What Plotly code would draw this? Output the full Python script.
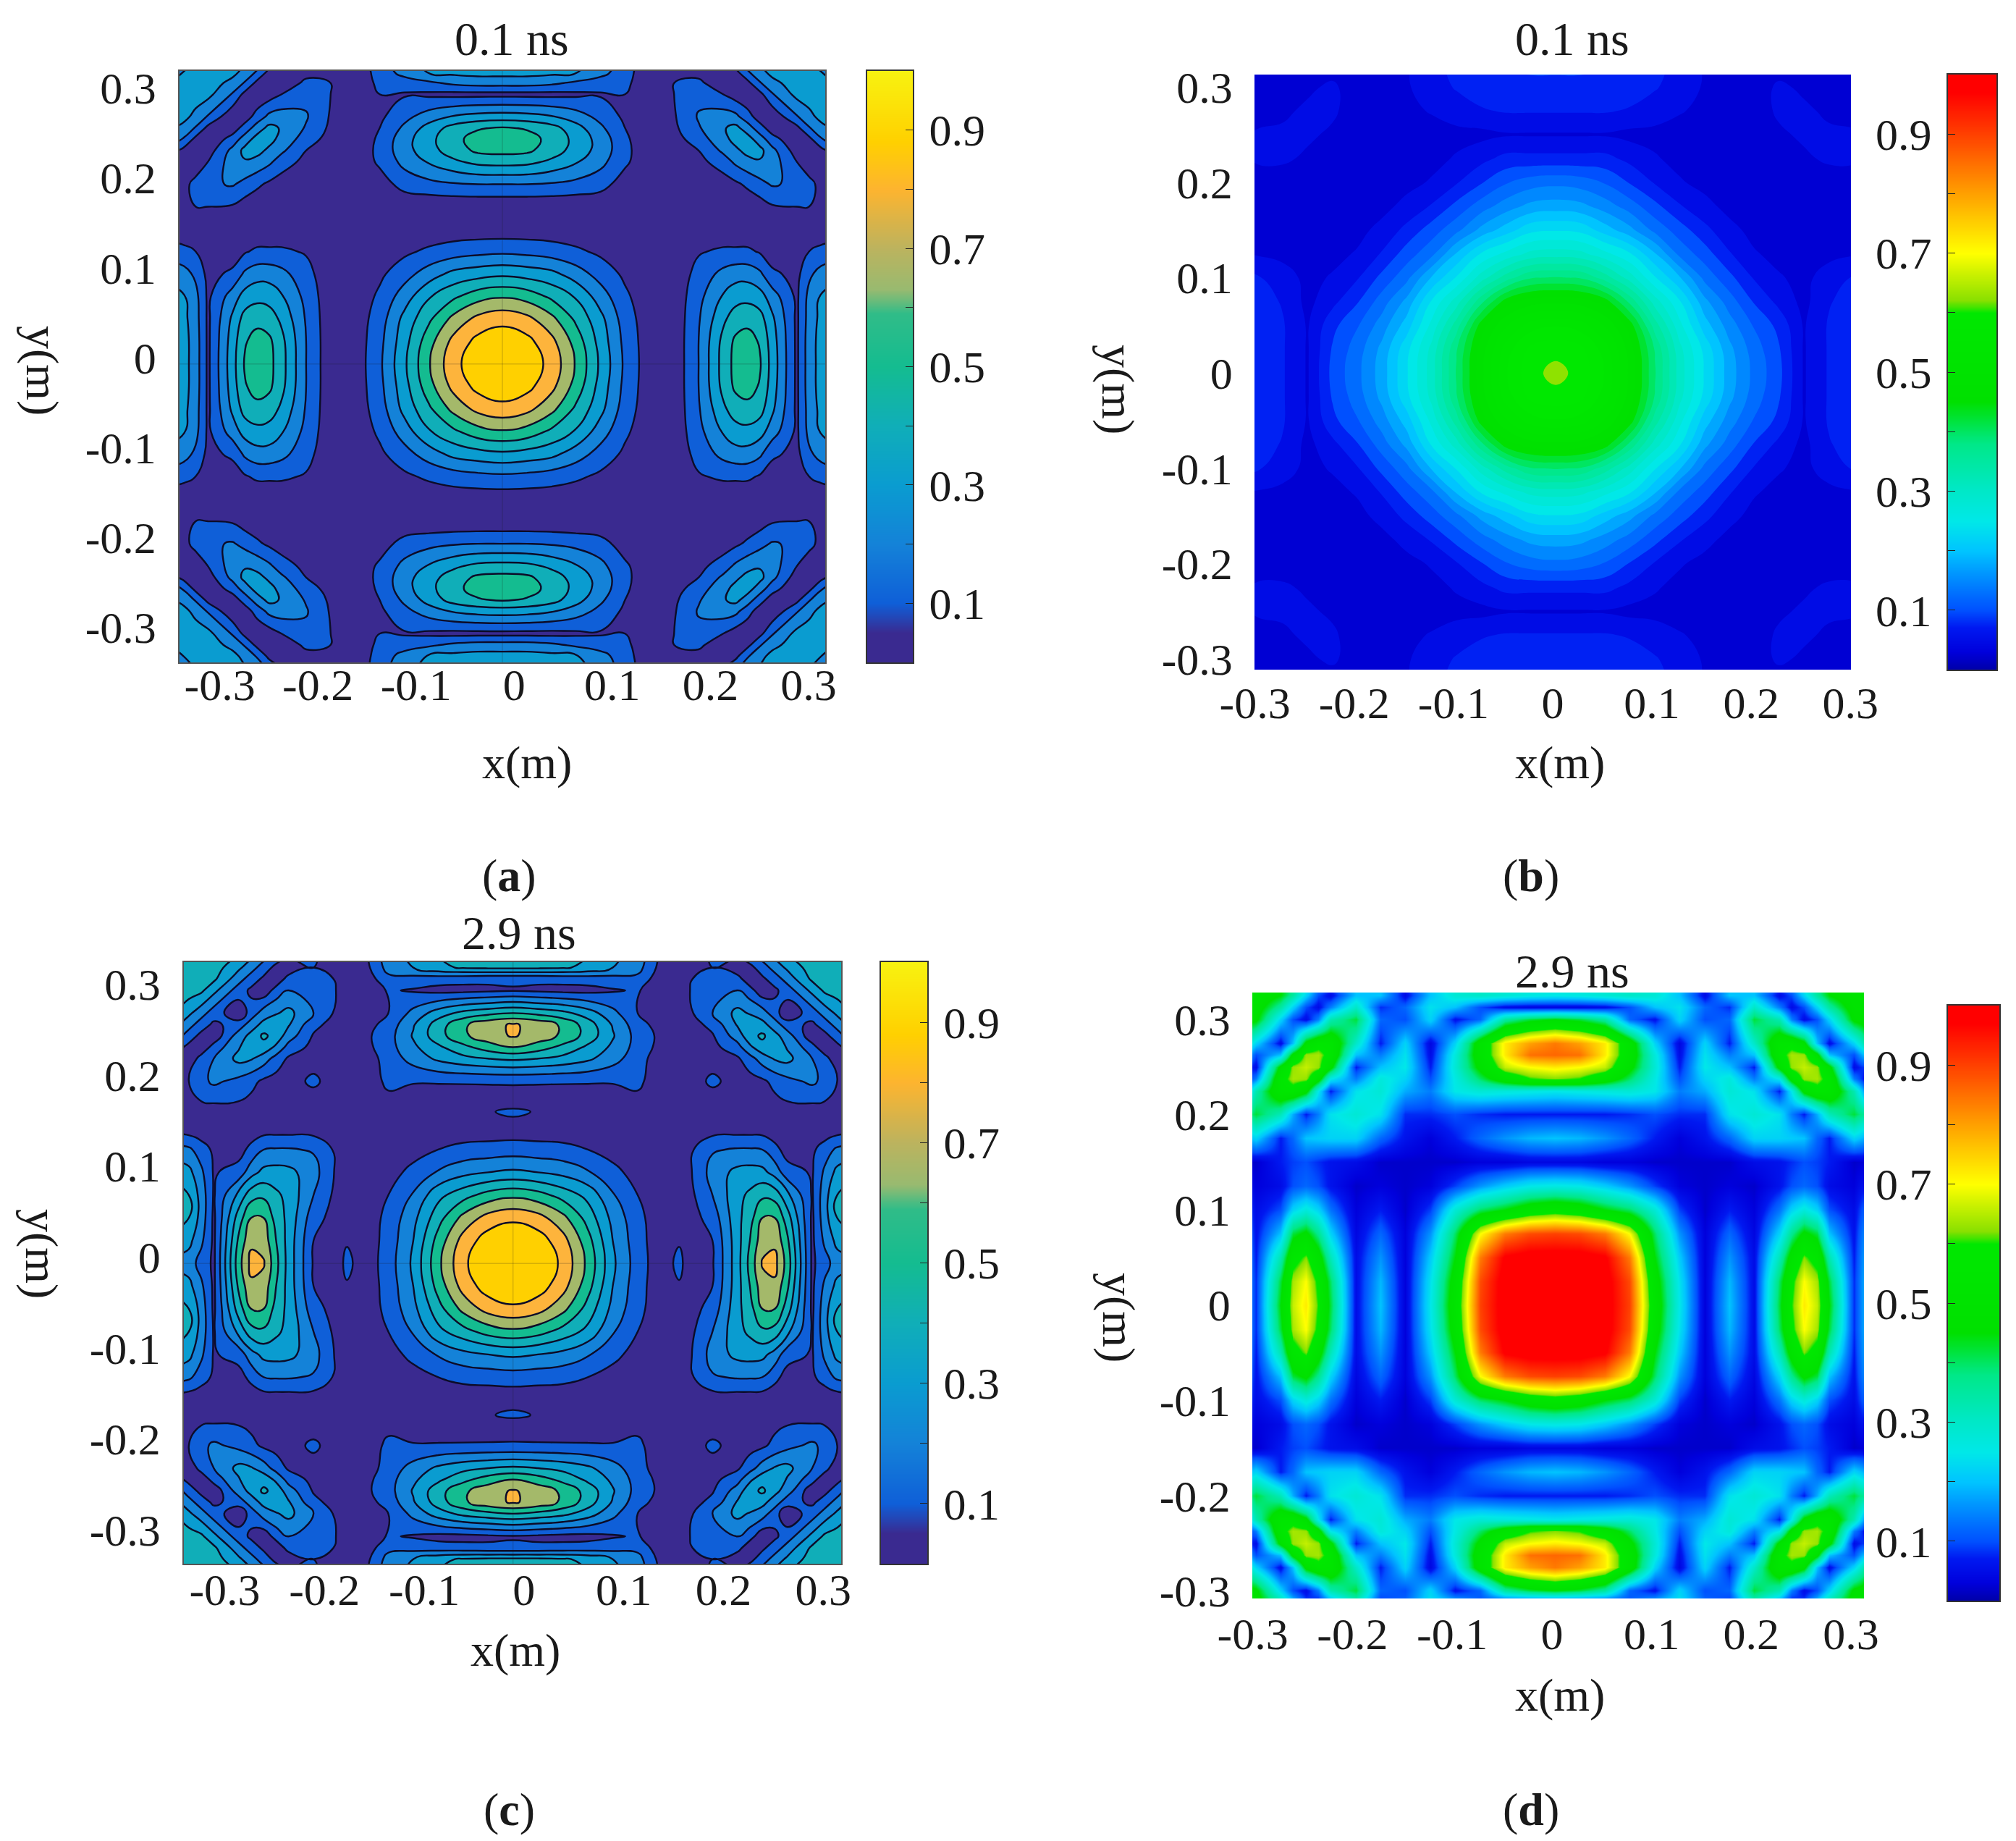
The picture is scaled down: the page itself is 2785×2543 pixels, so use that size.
import numpy as np
import plotly.graph_objects as go

W, H = 2785, 2543
Q = [0, .025, .05, .075, .1, .125, .15, .175, .2, .225, .25, .275, .3, .325, .35]
Q_FINE = [0, .025, .05, .075, .1, .125, .15, .175, .2, .225, .2375, .25, .2625, .275, .3, .3125, .325, .35]
Q_C = [0, .025, .05, .075, .1, .125, .15, .1666, .175, .2, .225, .2375, .25, .2625, .275, .3, .3125, .325, .35]

FIELD_A = [
[.90,.86,.77,.59,.38,.18,.04,.03,.20,.44,.53,.56,.51,.36,.08,.25,.34,.40],
[.86,.83,.73,.56,.36,.17,.04,.03,.20,.43,.52,.54,.49,.35,.08,.25,.34,.39],
[.77,.73,.63,.48,.33,.15,.04,.03,.19,.38,.45,.47,.44,.32,.08,.24,.33,.38],
[.59,.56,.48,.39,.25,.12,.03,.03,.17,.31,.36,.37,.34,.25,.08,.23,.31,.36],
[.38,.36,.33,.25,.16,.08,.02,.02,.14,.23,.26,.26,.22,.12,.07,.18,.24,.28],
[.18,.17,.15,.12,.08,.04,.01,.01,.09,.12,.12,.12,.09,.05,.06,.10,.13,.16],
[.04,.04,.04,.03,.02,.01,.01,.01,.01,.02,.02,.02,.02,.02,.02,.02,.03,.04],
[.02,.02,.02,.02,.02,.02,.01,.01,.01,.02,.02,.03,.05,.09,.10,.10,.05,.02],
[.20,.20,.19,.17,.14,.05,.01,.02,.02,.05,.08,.12,.17,.21,.18,.13,.07,.03],
[.44,.43,.38,.31,.23,.12,.02,.03,.07,.15,.22,.27,.29,.25,.10,.04,.02,.12],
[.53,.52,.45,.36,.26,.13,.02,.04,.10,.22,.28,.33,.33,.23,.05,.02,.07,.22],
[.56,.54,.47,.37,.26,.12,.02,.06,.15,.27,.33,.34,.25,.14,.02,.07,.19,.33],
[.51,.49,.44,.34,.22,.10,.02,.08,.19,.29,.33,.25,.14,.05,.07,.19,.27,.36],
[.35,.34,.31,.25,.17,.08,.01,.09,.21,.25,.23,.14,.05,.02,.19,.27,.33,.36],
[.07,.07,.07,.08,.09,.10,.02,.10,.17,.10,.05,.02,.07,.19,.33,.35,.36,.32],
[.24,.24,.22,.18,.15,.12,.04,.10,.12,.04,.02,.07,.19,.27,.35,.36,.33,.28],
[.34,.34,.33,.31,.24,.14,.03,.06,.07,.02,.07,.19,.27,.33,.36,.33,.30,.25],
[.40,.40,.38,.35,.27,.16,.04,.03,.12,.20,.27,.32,.35,.36,.32,.28,.25,.20],
]
FIELD_B = [
[.62,.605,.56,.48,.39,.30,.235,.175,.13,.095,.035,.065,.08,.09,.09],
[.605,.595,.55,.475,.385,.295,.23,.17,.125,.09,.035,.065,.08,.09,.09],
[.56,.55,.51,.45,.35,.27,.20,.15,.11,.08,.035,.065,.08,.09,.09],
[.48,.475,.45,.38,.30,.24,.17,.125,.085,.055,.03,.06,.075,.08,.085],
[.39,.385,.35,.30,.24,.19,.13,.095,.06,.04,.03,.05,.065,.07,.07],
[.30,.295,.27,.24,.19,.13,.10,.065,.04,.03,.025,.03,.035,.04,.045],
[.235,.23,.20,.17,.13,.10,.07,.045,.03,.025,.025,.025,.03,.03,.03],
[.175,.17,.15,.125,.095,.065,.045,.03,.025,.025,.025,.03,.03,.03,.03],
[.13,.125,.11,.085,.06,.04,.03,.025,.025,.03,.03,.03,.03,.03,.03],
[.07,.07,.07,.055,.04,.03,.025,.025,.03,.03,.035,.04,.04,.03,.03],
[.035,.035,.035,.03,.03,.025,.025,.025,.03,.035,.04,.04,.04,.03,.03],
[.065,.065,.065,.06,.05,.04,.03,.03,.03,.04,.04,.035,.03,.03,.035],
[.085,.085,.08,.075,.065,.05,.035,.03,.03,.04,.035,.03,.03,.035,.04],
[.09,.09,.09,.08,.07,.055,.035,.03,.03,.03,.03,.03,.035,.04,.04],
[.09,.09,.09,.085,.07,.055,.035,.03,.03,.03,.03,.035,.04,.04,.04],
]
FIELD_C = [
[.92,.88,.78,.575,.32,.15,.03,.14,.05,.09,.36,.53,.71,.73,.56,.08,.16,.25,.30],
[.88,.85,.74,.54,.30,.14,.03,.085,.04,.10,.36,.50,.66,.68,.52,.08,.22,.33,.38],
[.78,.74,.63,.46,.27,.13,.03,.03,.05,.14,.37,.46,.60,.60,.45,.08,.26,.40,.46],
[.575,.54,.46,.37,.21,.10,.03,.03,.06,.20,.37,.42,.48,.46,.33,.09,.26,.40,.46],
[.32,.30,.27,.21,.13,.06,.02,.03,.07,.24,.33,.34,.33,.26,.14,.09,.22,.33,.38],
[.15,.14,.13,.10,.06,.03,.01,.03,.07,.19,.21,.21,.20,.13,.06,.08,.15,.22,.25],
[.03,.03,.03,.03,.02,.01,.01,.01,.02,.04,.04,.04,.04,.03,.02,.02,.02,.03,.04],
[.135,.085,.03,.02,.01,.01,.01,.01,.01,.02,.02,.02,.02,.02,.01,.01,.02,.02,.03],
[.05,.04,.03,.02,.02,.07,.02,.02,.02,.03,.04,.045,.05,.07,.09,.095,.09,.06,.03],
[.11,.11,.11,.11,.11,.12,.04,.03,.03,.125,.05,.06,.08,.13,.17,.22,.17,.10,.04],
[.42,.40,.37,.32,.24,.14,.04,.02,.02,.05,.085,.16,.25,.31,.33,.20,.14,.03,.12],
[.60,.55,.47,.38,.28,.16,.06,.02,.03,.07,.16,.28,.36,.38,.29,.14,.03,.07,.21],
[.71,.66,.58,.46,.31,.16,.07,.02,.03,.09,.25,.36,.42,.33,.25,.03,.07,.15,.33],
[.71,.67,.58,.45,.29,.14,.05,.02,.05,.13,.31,.38,.33,.25,.14,.08,.15,.24,.40],
[.50,.47,.43,.35,.23,.10,.02,.03,.07,.20,.33,.29,.25,.14,.03,.15,.24,.32,.46],
[.09,.08,.07,.07,.09,.11,.02,.04,.09,.19,.20,.14,.03,.08,.15,.33,.42,.45,.47],
[.12,.12,.13,.14,.16,.17,.03,.04,.09,.14,.14,.03,.08,.15,.24,.42,.46,.46,.44],
[.42,.42,.41,.38,.30,.24,.05,.05,.08,.10,.03,.07,.15,.24,.32,.45,.46,.42,.40],
[.48,.48,.45,.42,.34,.26,.07,.06,.05,.11,.20,.25,.33,.40,.46,.47,.44,.40,.35],
]
FIELD_D = [
[1,1,1,.90,.52,.25,.03,.20,.05,.42,.60,.72,.66,.45,.08,.20,.25,.28],
[1,1,1,.89,.50,.24,.03,.19,.05,.40,.58,.70,.64,.42,.08,.20,.25,.28],
[1,1,.98,.84,.45,.21,.03,.16,.05,.32,.50,.62,.56,.33,.07,.19,.24,.26],
[.90,.89,.84,.70,.40,.16,.03,.12,.04,.22,.37,.47,.42,.20,.06,.17,.22,.24],
[.55,.52,.45,.40,.28,.09,.02,.07,.03,.13,.22,.27,.22,.10,.05,.13,.16,.18],
[.26,.25,.21,.16,.09,.03,.02,.03,.02,.06,.10,.12,.10,.05,.03,.07,.10,.12],
[.04,.04,.03,.03,.02,.02,.02,.02,.05,.06,.08,.10,.09,.07,.02,.03,.04,.05],
[.20,.19,.16,.12,.07,.03,.06,.12,.22,.22,.21,.20,.12,.07,.22,.18,.15,.08],
[.07,.07,.07,.08,.10,.08,.08,.24,.28,.24,.14,.07,.18,.32,.42,.34,.20,.08],
[.25,.26,.27,.28,.25,.14,.18,.28,.24,.07,.25,.48,.56,.55,.33,.14,.05,.20],
[.62,.60,.52,.40,.26,.10,.22,.27,.14,.25,.50,.63,.64,.56,.14,.05,.10,.35],
[.72,.70,.66,.48,.28,.07,.25,.20,.07,.48,.63,.66,.63,.48,.05,.10,.22,.42],
[.86,.85,.72,.52,.27,.05,.24,.14,.20,.56,.64,.63,.48,.20,.10,.22,.35,.47],
[.84,.80,.72,.52,.22,.04,.22,.07,.30,.55,.56,.48,.20,.05,.22,.35,.42,.50],
[.45,.42,.35,.12,.06,.22,.10,.12,.42,.33,.14,.05,.10,.22,.47,.50,.52,.50],
[.04,.04,.05,.10,.20,.24,.12,.08,.30,.14,.05,.10,.22,.35,.50,.52,.52,.50],
[.25,.26,.28,.30,.28,.20,.05,.20,.20,.05,.10,.22,.35,.45,.52,.52,.50,.48],
[.32,.32,.32,.32,.30,.22,.08,.20,.20,.15,.25,.35,.42,.50,.52,.50,.48,.45],
]

TICKS = [-.3, -.2, -.1, 0, .1, .2, .3]
TICK_TEXT = ["-0.3", "-0.2", "-0.1", "0", "0.1", "0.2", "0.3"]
BAR_TICKS = [.1, .2, .3, .4, .5, .6, .7, .8, .9]
BAR_TEXT = ["0.1", "", "0.3", "", "0.5", "", "0.7", "", "0.9"]
BAR_LEVELS = [i / 200 for i in range(201)]

BANDS = ["#3a2a90", "#0f5fd8", "#1482d8", "#0a9cd0", "#10aeb8", "#14bc90", "#a4b96a", "#fdb43c", "#ffd000"]
PARULA_BAR = [[0, "#3a2a90"], [.05, "#3a2a90"], [.1, "#0f5fd8"], [.2, "#1482d8"], [.3, "#0a9cd0"], [.4, "#10aeb8"],
              [.5, "#14bc90"], [.59, "#30bc88"], [.63, "#98ba70"], [.7, "#bcb35e"], [.8, "#fdb42f"], [.88, "#ffd000"], [1, "#f8f210"]]
JET = [[0, "#0000a8"], [.03, "#0000dc"], [.07, "#0018f0"], [.1, "#0050ff"], [.15, "#0088ff"], [.2, "#00c4ff"], [.25, "#00e8e8"],
       [.3, "#00e8c8"], [.38, "#00e888"], [.45, "#00e000"], [.6, "#00e800"], [.62, "#88e000"], [.7, "#ffff00"], [.8, "#ffa000"],
       [.9, "#ff4000"], [.97, "#ff0000"], [1, "#ff0000"]]

FONT = "Liberation Serif"
PANELS = [
    dict(f=FIELD_A, qu=Q_FINE, qv=Q_FINE, px=(248, 1140, 98, 915), bar=(1198, 1261, 98, 915), xr=(-.341, .317), yr=(-.339, .319),
         c=(-.012, -.007), kind="lines", side="right", title=("0.1 ns", 707, 53), xl=(728, 1053), yl=(58, 512), tag=("a", 703, 1209), so=(-24, 18)),
    dict(f=FIELD_B, qu=Q, qv=Q, px=(1733, 2557, 103, 925), bar=(2691, 2758, 103, 925), xr=(-.3005, .3005), yr=(-.311, .313),
         c=(.003, 0), kind="bands", side="left", title=("0.1 ns", 2172, 53), xl=(2155, 1053), yl=(1545, 538), tag=("b", 2115, 1209), so=(-9, 16)),
    dict(f=FIELD_C, qu=Q_C, qv=Q_C, px=(254, 1162, 1329, 2160), bar=(1217, 1281, 1329, 2160), xr=(-.341, .318), yr=(-.337, .324),
         c=(-.011, -.007), kind="lines", side="right", title=("2.9 ns", 717, 1288), xl=(712, 2279), yl=(58, 1732), tag=("c", 703, 2499), so=(-19, 18)),
    dict(f=FIELD_D, qu=Q_FINE, qv=Q_FINE, px=(1730, 2575, 1371, 2208), bar=(2691, 2762, 1389, 2211), xr=(-.3005, .313), yr=(-.308, .328),
         c=(.003, 0), kind="smooth", side="left", title=("2.9 ns", 2172, 1341), xl=(2155, 2341), yl=(1545, 1820), tag=("d", 2115, 2499), so=(-6, 16)),
]


def mirror(rows, qu, qv, c):
    z = np.array(rows, dtype=float)
    z = np.hstack([z[:, :0:-1], z])
    z = np.vstack([z[:0:-1, :], z])
    x = np.r_[-np.array(qu[:0:-1]), qu] + c[0]
    y = np.r_[-np.array(qv[:0:-1]), qv] + c[1]
    return x, y, z


def dx(p):
    return p / W


def dy(p):
    return 1 - p / H


fig = go.Figure()
layout = dict(width=W, height=H, margin=dict(l=0, r=0, t=0, b=0, autoexpand=False), autosize=False, paper_bgcolor="white", plot_bgcolor="white",
              showlegend=False, font=dict(family=FONT, size=62, color="#1a1a1a"))
ann = []
shapes = []


def note(text, x, y, size=64, angle=0):
    ann.append(dict(text=text, x=dx(x), y=dy(y), xref="paper", yref="paper", showarrow=False, xanchor="center", yanchor="middle",
                    textangle=angle, font=dict(family=FONT, size=size, color="#1a1a1a")))


for i, p in enumerate(PANELS):
    xa, ya, xb, yb = 2 * i + 1, 2 * i + 2, 10 + 2 * i + 1, 10 + 2 * i + 2
    x, y, z = mirror(p["f"], p["qu"], p["qv"], p["c"])
    if p["kind"] == "lines":
        fig.add_trace(go.Contour(x=x, y=y, z=z, xaxis=f"x{xa}", yaxis=f"y{ya}", showscale=False, zmin=0, zmax=1,
                                 autocontour=False, contours=dict(start=.1, end=.8, size=.1, coloring="fill"),
                                 colorscale=[[k / 8, c] for k, c in enumerate(BANDS)],
                                 line=dict(color="#0c0c28", width=2.4, smoothing=1.3), hoverinfo="skip"))
        shapes.append(dict(type="line", xref=f"x{xa}", yref="paper", x0=p["c"][0], x1=p["c"][0],
                           y0=dy(p["px"][3]), y1=dy(p["px"][2]), line=dict(color="rgba(30,30,30,.18)", width=1.5)))
        shapes.append(dict(type="line", yref=f"y{ya}", xref="paper", y0=p["c"][1], y1=p["c"][1],
                           x0=dx(p["px"][0]), x1=dx(p["px"][1]), line=dict(color="rgba(30,30,30,.18)", width=1.5)))
    elif p["kind"] == "bands":
        s = .025
        fig.add_trace(go.Contour(x=x, y=y, z=z, xaxis=f"x{xa}", yaxis=f"y{ya}", showscale=False, zmin=0, zmax=1,
                                 autocontour=False, contours=dict(start=s / 2, end=1 - s / 2, size=s, coloring="fill"),
                                 colorscale=JET, line=dict(width=0, smoothing=1.3), hoverinfo="skip"))
    else:
        fig.add_trace(go.Heatmap(x=x, y=y, z=z, xaxis=f"x{xa}", yaxis=f"y{ya}", showscale=False, zmin=0, zmax=1,
                                 zsmooth="best", colorscale=JET, hoverinfo="skip"))
    l, r, t, b = p["px"]
    frame = "#555555" if p["kind"] == "lines" else "rgba(0,0,0,0)"
    layout[f"xaxis{xa}"] = dict(domain=[dx(l), dx(r)], range=list(p["xr"]), anchor=f"y{ya}", tickvals=TICKS, ticktext=TICK_TEXT,
                                ticks="", showgrid=False, zeroline=False, showline=True, linecolor=frame, linewidth=1.5,
                                mirror=True, ticklabelstandoff=p["so"][0], tickfont=dict(family=FONT, size=62, color="#1a1a1a"))
    layout[f"yaxis{ya}"] = dict(domain=[dy(b), dy(t)], range=list(p["yr"]), anchor=f"x{xa}", tickvals=TICKS, ticktext=TICK_TEXT,
                                ticks="", showgrid=False, zeroline=False, showline=True, linecolor=frame, linewidth=1.5,
                                mirror=True, ticklabelstandoff=p["so"][1], tickfont=dict(family=FONT, size=62, color="#1a1a1a"))
    bl, br, bt, bb = p["bar"]
    fig.add_trace(go.Heatmap(x=[0, 1], y=BAR_LEVELS, z=[[v, v] for v in BAR_LEVELS], zmin=0, zmax=1, zsmooth="best", showscale=False,
                             colorscale=PARULA_BAR if p["kind"] == "lines" else JET, xaxis=f"x{xb}", yaxis=f"y{yb}", hoverinfo="skip"))
    layout[f"xaxis{xb}"] = dict(domain=[dx(bl), dx(br)], range=[0, 1], anchor=f"y{yb}", showticklabels=False, ticks="", showgrid=False,
                                zeroline=False, showline=True, linecolor="#333333", linewidth=2, mirror=True)
    layout[f"yaxis{yb}"] = dict(domain=[dy(bb), dy(bt)], range=[0, 1], anchor=f"x{xb}", side=p["side"], tickvals=BAR_TICKS, ticktext=BAR_TEXT,
                                ticks="inside", ticklen=10, tickcolor="#222222", showgrid=False, zeroline=False, showline=True,
                                linecolor="#333333", linewidth=2, mirror=True, ticklabelstandoff=8,
                                tickfont=dict(family=FONT, size=62, color="#1a1a1a"))
    t_ = p["title"]
    note(t_[0], t_[1], t_[2], 66)
    note("x(m)", p["xl"][0], p["xl"][1], 64)
    note("y(m)", p["yl"][0], p["yl"][1], 64, 90)
    note(f"(<b>{p['tag'][0]}</b>)", p["tag"][1], p["tag"][2], 64)

layout["annotations"] = ann
layout["shapes"] = shapes
fig.update_layout(**layout)
fig.write_html("out.html", config={"displayModeBar": False}, post_script="document.body.style.margin='0';")
